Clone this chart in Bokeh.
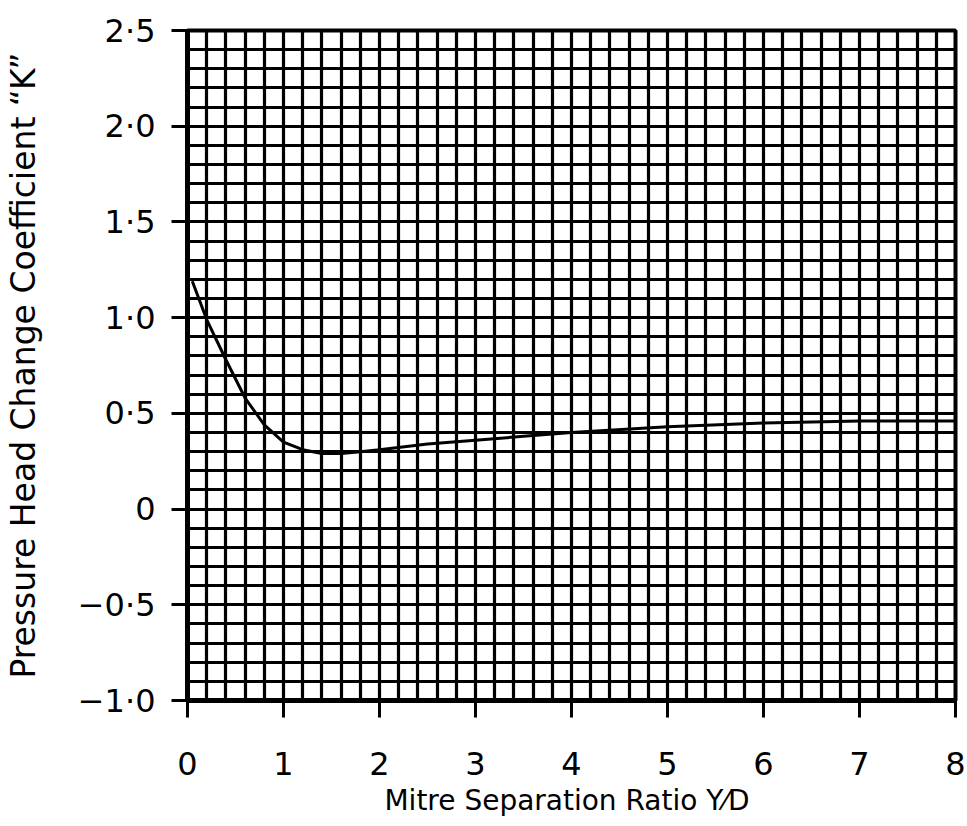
from bokeh.plotting import figure
from bokeh.models import Range1d, FixedTicker
from bokeh.embed import file_html
from bokeh.resources import INLINE

# Data
sep_ratio = [0.05, 0.2, 0.4, 0.6, 0.8, 1.0, 1.2, 1.4, 1.6, 1.8, 2.0, 2.5, 3.0, 3.5, 4.0, 5.0, 6.0, 7.0, 8.0]
k_coeff = [1.19, 0.99, 0.78, 0.58, 0.44, 0.35, 0.31, 0.29, 0.29, 0.30, 0.31, 0.34, 0.36, 0.38, 0.40, 0.43, 0.45, 0.46, 0.46]

x_ticks = [0, 1, 2, 3, 4, 5, 6, 7, 8]
y_ticks = [-1.0, -0.5, 0.0, 0.5, 1.0, 1.5, 2.0, 2.5]
y_tick_labels = ["\u22121\u00b70", "\u22120\u00b75", "0", "0\u00b75", "1\u00b70", "1\u00b75", "2\u00b70", "2\u00b75"]
x_grid = [i * 0.2 for i in range(0, 41)]
y_grid = [-1.0 + i * 0.1 for i in range(0, 36)]

TICK_FONT = "DejaVu Sans"
LABEL_FONT = "DejaVu Sans"

p = figure(width=967, height=826, output_backend="svg", toolbar_location=None,
           x_range=Range1d(0, 8), y_range=Range1d(-1, 2.5),
           min_border_left=186, min_border_right=12, min_border_top=30, min_border_bottom=126)

p.background_fill_color = "white"
p.border_fill_color = "white"
p.outline_line_color = "black"
p.outline_line_width = 4

# graph-paper grid
p.xgrid.ticker = FixedTicker(ticks=x_grid)
p.ygrid.ticker = FixedTicker(ticks=y_grid)
for g in (p.xgrid, p.ygrid):
    g.grid_line_color = "black"
    g.grid_line_width = 3.2
    g.grid_line_alpha = 1.0

# axes
p.xaxis.ticker = FixedTicker(ticks=x_ticks)
p.yaxis.ticker = FixedTicker(ticks=y_ticks)
p.yaxis.major_label_overrides = {t: l for t, l in zip(y_ticks, y_tick_labels)}
p.xaxis.major_label_overrides = {t: str(t) for t in x_ticks}

for ax in (p.xaxis, p.yaxis):
    ax.axis_line_color = "black"
    ax.axis_line_width = 5
    ax.major_tick_line_color = "black"
    ax.major_tick_line_width = 3
    ax.major_tick_in = 0
    ax.minor_tick_line_color = None
    ax.major_label_text_font = TICK_FONT
    ax.major_label_text_font_size = "32px"
    ax.major_label_text_color = "black"
    ax.axis_label_text_font = LABEL_FONT
    ax.axis_label_text_font_style = "normal"
    ax.axis_label_text_color = "black"

p.xaxis.major_tick_out = 17
p.yaxis.major_tick_out = 16
p.xaxis.major_label_standoff = 34
p.yaxis.major_label_standoff = 16

p.xaxis.axis_label = "Mitre Separation Ratio  Y\u2044D"
p.xaxis.axis_label_text_font_size = "28px"
p.xaxis.axis_label_standoff = 6

p.yaxis.axis_label = "Pressure Head Change Coefficient \u201cK\u201d"
p.yaxis.axis_label_text_font_size = "33px"
p.yaxis.axis_label_standoff = 32

p.line(sep_ratio, k_coeff, line_color="black", line_width=3)

open("out.html", "w").write(file_html(p, INLINE))
